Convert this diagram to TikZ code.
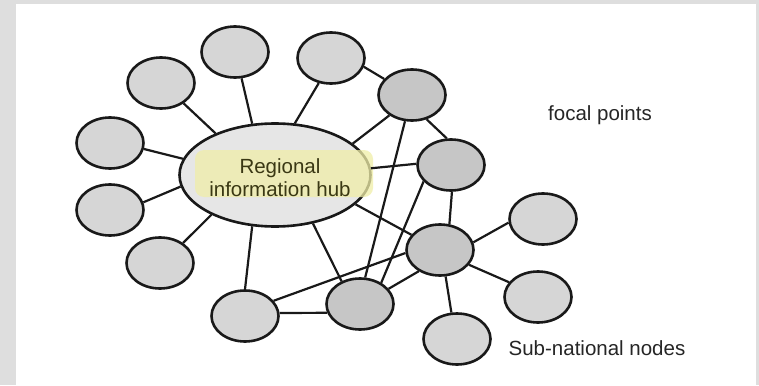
\documentclass[tikz,border=0pt]{standalone}
\usepackage{fontspec}
\setmainfont{Liberation Sans}
\usetikzlibrary{shapes.geometric}
\definecolor{bgray}{RGB}{222,222,222}
\definecolor{satlight}{RGB}{214,214,214}
\definecolor{satdark}{RGB}{198,198,198}
\definecolor{hubfill}{RGB}{230,230,230}
\definecolor{hilite}{RGB}{240,238,168}
\definecolor{hubtext}{RGB}{58,56,20}
\tikzset{
  sat/.style={ellipse, draw=black!90, line width=2.6pt, minimum width=67pt, minimum height=51pt, inner sep=0pt, fill=satlight},
  satd/.style={sat, fill=satdark},
  link/.style={line width=2.2pt, draw=black!90},
  lbl/.style={font=\fontsize{20.5}{24}\selectfont, text=black!85, inner sep=0pt, anchor=base}
}
\begin{document}
\begin{tikzpicture}[x=1pt,y=-1pt]
\useasboundingbox (0,0) rectangle (759,385);
\fill[bgray] (0,0) rectangle (759,385);
\fill[white] (16,4) rectangle (756,385);

\node[sat, fill=hubfill, minimum width=191pt, minimum height=103pt] (hub) at (275,175) {};
\node[draw=none, fill=hilite, fill opacity=0.75, rounded corners=9pt, minimum width=178pt, minimum height=47pt, inner sep=0pt] (hl) at (284,173.5) {};
\node[align=center, font=\fontsize{20.5}{23}\selectfont, text=hubtext, inner sep=0pt] (hubtxt) at (280,178) {Regional\\information hub};

\node[sat] (e1) at (235,52) {};
\node[sat] (e2) at (161,83) {};
\node[sat] (e3) at (331,58) {};
\node[sat] (e4) at (110,143) {};
\node[sat] (e5) at (110,210) {};
\node[sat] (e6) at (160,263) {};
\node[sat] (e7) at (245,316) {};
\node[satd] (e8) at (360,304) {};
\node[satd] (e9) at (412,95) {};
\node[satd] (e10) at (451,165) {};
\node[satd] (e11) at (440,250) {};
\node[sat] (e12) at (543,219) {};
\node[sat] (e13) at (538,297) {};
\node[sat] (e14) at (457,339) {};

\draw[link] (hub.114) -- (e1.284);
\draw[link] (hub.145) -- (e2.318);
\draw[link] (hub.69) -- (e3.244);
\draw[link] (hub.170) -- (e4.350);
\draw[link] (hub.187) -- (e5.13);
\draw[link] (hub.212) -- (e6.41);
\draw[link] (hub.246) -- (e7.90);
\draw[link] (hub.308) -- (e8.129);
\draw[link] (hub.22) -- (e9.222);
\draw[link] (hub.4) -- (e10.178);
\draw[link] (hub.340) -- (e11.152);
\draw[link] (e3.345) -- (e9.150);
\draw[link] (e9.301) -- (e10.99);
\draw[link] (e9.255) -- (e8.79);
\draw[link] (e10.211) -- (e8.45);
\draw[link] (e10.272) -- (e11.70);
\draw[link] (e7.28) -- (e11.185);
\draw[link] (e11.225) -- (e8.28);
\draw[link] (e7.5) -- (e8.195);
\draw[link] (e11.13) -- (e12.186);
\draw[link] (e11.333) -- (e13.153);
\draw[link] (e11.282) -- (e14.102);

\node[lbl] (focal) at (600,120) {focal points};
\node[lbl] (subnat) at (597,355) {Sub-national nodes};
\end{tikzpicture}
\end{document}
